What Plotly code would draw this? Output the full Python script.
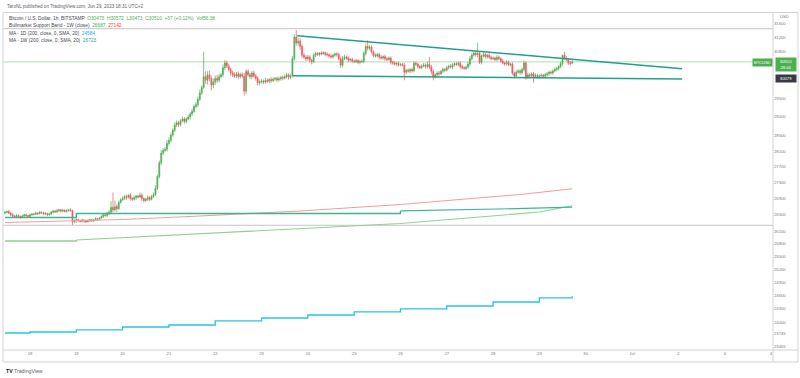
import math
import pandas as pd
import plotly.graph_objects as go

# ---------------- data ----------------
start_time = "2023-06-17 11:00"
open_first = 26540

close_jun17 = [26560, 26580, 26540, 26500, 26470, 26450, 26480, 26460, 26440, 26470, 26500, 26480, 26460]
close_jun18 = [26500, 26520, 26510, 26540, 26530, 26560, 26550, 26520, 26530, 26500, 26520, 26560,
               26590, 26570, 26600, 26620, 26590, 26610, 26580, 26600, 26620, 26600, 26330, 26360]
close_jun19 = [26380, 26360, 26340, 26370, 26350, 26330, 26360, 26380, 26350, 26370, 26400, 26390,
               26420, 26450, 26500, 26480, 26530, 26560, 26680, 26620, 26700, 26650, 26800, 26870]
close_jun20 = [26900, 26950, 26930, 26980, 26900, 26880, 26920, 26960, 26940, 26980, 26900, 26850,
               26880, 26920, 26880, 26950, 26990, 27150, 27450, 27800, 28050, 28120, 28150, 28300]
close_jun21 = [28380, 28520, 28650, 28790, 28850, 28800, 28900, 28950, 28880, 28950, 29000, 29080,
               29150, 29280, 29330, 29480, 29650, 29800, 30100, 30000, 30150, 30050, 29870, 29950]
close_jun22 = [30050, 30000, 30100, 30150, 30350, 30480, 30400, 30300, 30200, 30150, 30120, 30180,
               30100, 30160, 30120, 29700, 30240, 30150, 30100, 30200, 30120, 30050, 29930, 29950]
close_jun23 = [29980, 29950, 30000, 29970, 30020, 29990, 30030, 30050, 30010, 30040, 30080, 30060,
               30100, 30150, 30080, 30120, 30600, 31220, 31050, 31100, 30950, 30700, 30650, 30600]
close_jun24 = [30650, 30560, 30520, 30700, 30750, 30720, 30760, 30740, 30770, 30730, 30710, 30680,
               30650, 30700, 30740, 30720, 30600, 30420, 30600, 30650, 30620, 30560, 30580, 30540]
close_jun25 = [30520, 30550, 30500, 30530, 30520, 30750, 30950, 30900, 30930, 30800, 30700, 30680,
               30720, 30650, 30620, 30660, 30600, 30580, 30620, 30500, 30480, 30450, 30470, 30430]
close_jun26 = [30440, 30420, 30220, 30280, 30250, 30300, 30260, 30470, 30450, 30380, 30350, 30400,
               30420, 30380, 30440, 30370, 30250, 30090, 30150, 30200, 30180, 30250, 30300, 30280]
close_jun27 = [30350, 30390, 30370, 30430, 30460, 30440, 30470, 30380, 30350, 30330, 30360, 30450,
               30600, 30700, 30760, 30720, 30750, 30500, 30680, 30720, 30660, 30700, 30640, 30600]
close_jun28 = [30620, 30580, 30640, 30600, 30540, 30480, 30460, 30500, 30430, 30450, 30200, 30120,
               30220, 30260, 30210, 30300, 30480, 30090, 30150, 30120, 30180, 30100, 30130, 30100]
close_jun29 = [30120, 30140, 30110, 30150, 30180, 30220, 30200, 30260, 30300, 30330, 30380, 30470,
               30700, 30620, 30570, 30480, 30473, 30510]

wick_up_jun17 = [30, 20, 40, 25, 30, 20, 35, 25, 20, 30, 25, 30, 20]
wick_dn_jun17 = [25, 30, 20, 35, 30, 25, 20, 30, 35, 20, 25, 30, 25]
wick_up_jun18 = [30, 25, 20, 35, 25, 30, 20, 25, 40, 20, 30, 35, 25, 30, 40, 25, 20, 30, 25, 35, 30, 40, 20, 30]
wick_dn_jun18 = [20, 30, 25, 20, 35, 25, 30, 20, 25, 30, 20, 25, 30, 20, 25, 30, 35, 20, 25, 30, 20, 25, 80, 40]
wick_up_jun19 = [30, 20, 25, 40, 20, 30, 25, 20, 30, 25, 35, 20, 30, 40, 25, 30, 40, 60, 150, 370, 150, 60, 50, 40]
wick_dn_jun19 = [60, 40, 30, 25, 50, 30, 20, 35, 25, 30, 20, 40, 25, 20, 30, 25, 35, 40, 50, 60, 40, 80, 30, 25]
wick_up_jun20 = [60, 40, 50, 30, 60, 40, 50, 30, 40, 70, 50, 30, 40, 60, 50, 40, 60, 80, 50, 60, 80, 60, 50, 90]
wick_dn_jun20 = [30, 40, 60, 30, 50, 40, 30, 50, 40, 30, 60, 40, 30, 40, 50, 30, 40, 30, 40, 50, 60, 50, 40, 60]
wick_up_jun21 = [80, 60, 50, 70, 60, 50, 40, 60, 50, 40, 60, 50, 70, 60, 80, 70, 90, 60, 700, 150, 100, 120, 80, 100]
wick_dn_jun21 = [60, 50, 40, 50, 60, 70, 50, 40, 60, 50, 40, 60, 50, 40, 50, 60, 50, 60, 40, 100, 120, 80, 150, 90]
wick_up_jun22 = [80, 100, 70, 60, 90, 80, 70, 60, 50, 60, 70, 50, 60, 50, 60, 80, 60, 70, 50, 60, 70, 50, 60, 70]
wick_dn_jun22 = [80, 70, 60, 50, 60, 70, 60, 50, 70, 60, 50, 60, 70, 50, 60, 120, 80, 50, 60, 70, 50, 60, 80, 70]
wick_up_jun23 = [50, 40, 60, 50, 40, 60, 50, 40, 50, 60, 40, 50, 60, 50, 40, 60, 80, 80, 200, 100, 80, 60, 70, 50]
wick_dn_jun23 = [40, 60, 50, 40, 50, 60, 40, 50, 60, 40, 50, 60, 40, 50, 60, 50, 40, 60, 80, 70, 100, 80, 60, 70]
wick_up_jun24 = [60, 50, 40, 60, 50, 40, 30, 50, 40, 30, 50, 40, 50, 40, 30, 40, 50, 60, 80, 60, 40, 50, 40, 50]
wick_dn_jun24 = [50, 60, 80, 40, 50, 40, 50, 40, 30, 50, 40, 50, 40, 50, 40, 60, 50, 80, 60, 40, 50, 60, 40, 50]
wick_up_jun25 = [40, 50, 40, 30, 50, 60, 80, 180, 60, 50, 40, 60, 50, 40, 50, 40, 60, 50, 40, 50, 40, 50, 40, 50]
wick_dn_jun25 = [50, 40, 50, 60, 40, 50, 60, 70, 60, 50, 60, 40, 50, 60, 40, 50, 60, 50, 40, 60, 50, 40, 60, 50]
wick_up_jun26 = [40, 50, 60, 40, 50, 40, 50, 60, 50, 40, 50, 40, 60, 50, 80, 210, 60, 50, 40, 50, 60, 40, 50, 40]
wick_dn_jun26 = [50, 40, 220, 50, 40, 60, 50, 40, 50, 60, 40, 50, 40, 60, 50, 60, 90, 90, 40, 50, 60, 40, 50, 60]
wick_up_jun27 = [50, 40, 60, 50, 40, 50, 40, 60, 50, 40, 50, 60, 80, 60, 50, 60, 300, 50, 40, 60, 50, 40, 60, 50]
wick_dn_jun27 = [40, 50, 40, 60, 50, 40, 50, 60, 50, 40, 50, 40, 60, 50, 40, 60, 80, 50, 60, 40, 50, 60, 40, 50]
wick_up_jun28 = [50, 40, 60, 50, 40, 50, 40, 60, 50, 40, 50, 40, 60, 50, 40, 50, 70, 50, 60, 50, 40, 50, 60, 40]
wick_dn_jun28 = [40, 50, 60, 40, 50, 40, 60, 50, 40, 50, 60, 80, 50, 40, 60, 50, 60, 80, 50, 60, 50, 170, 40, 60]
wick_up_jun29 = [40, 50, 40, 60, 50, 40, 50, 40, 60, 50, 40, 50, 20, 100, 60, 50, 62, 62]
wick_dn_jun29 = [50, 40, 60, 40, 50, 60, 40, 50, 40, 50, 60, 40, 60, 50, 40, 60, 60, 0]

# Bull market support band (1W)
band_sma_t = ["2023-06-17 11:00", "2023-06-19 00:20", "2023-06-20 00:00", "2023-06-21 16:00",
              "2023-06-23 20:00", "2023-06-26 00:00", "2023-06-27 07:00", "2023-06-28 14:00", "2023-06-29 17:00"]
band_sma_v = [26312, 26348, 26385, 26470, 26593, 26752, 26877, 27001, 27142]
band_ema_step_t = ["2023-06-17 11:00", "2023-06-19 00:00", "2023-06-26 00:00"]
band_ema_step_v = [26434, 26531, 26593]
band_ema_rise_t = ["2023-06-26 00:00", "2023-06-27 12:00", "2023-06-28 12:00", "2023-06-29 17:00"]
band_ema_rise_v = [26593, 26620, 26650, 26687]

# MA 1W (200)
ma1w_step_t = ["2023-06-17 11:00", "2023-06-19 00:00"]
ma1w_step_v = [25867, 25891]
ma1w_rise_t = ["2023-06-19 00:00", "2023-06-21 16:00", "2023-06-23 20:00",
               "2023-06-26 00:00", "2023-06-27 17:00", "2023-06-29 00:00", "2023-06-29 17:00"]
ma1w_rise_v = [25891, 26042, 26155, 26288, 26446, 26568, 26723]

# MA 1D (200) - daily steps
ma1d_t = ["2023-06-17 11:00", "2023-06-18", "2023-06-19", "2023-06-20", "2023-06-21", "2023-06-22",
          "2023-06-23", "2023-06-24", "2023-06-25", "2023-06-26", "2023-06-27", "2023-06-28",
          "2023-06-29", "2023-06-29 17:00"]
ma1d_v = [23763, 23785, 23829, 23895, 23939, 24028, 24094, 24160, 24228, 24295, 24362, 24452, 24543, 24584]

# trend lines (drawings)
tl_upper_t = ["2023-06-23 18:30", "2023-07-02 02:00"]
tl_upper_v = [31258, 30318]
tl_lower_t = ["2023-06-23 16:15", "2023-07-02 02:00"]
tl_lower_v = [30126, 30034]
hline_levels = [31460, 26245]
last_price = 30510

y_tick_vals = [31600, 31200, 30800, 29500, 29000, 28500, 28100, 27700, 27300, 26900, 26500,
               26100, 25800, 25500, 25200, 24900, 24600, 24300, 24000, 23745, 23465]
x_tick_dates = ["2023-06-18", "2023-06-19", "2023-06-20", "2023-06-21", "2023-06-22", "2023-06-23",
                "2023-06-24", "2023-06-25", "2023-06-26", "2023-06-27", "2023-06-28", "2023-06-29",
                "2023-06-30", "2023-07-01", "2023-07-02", "2023-07-03", "2023-07-04"]
x_tick_text = ["18", "19", "20", "21", "22", "23", "24", "25", "26", "27", "28", "29", "30", "Jul", "2", "3", "4"]

# ---------------- build OHLC ----------------
closes = (close_jun17 + close_jun18 + close_jun19 + close_jun20 + close_jun21 + close_jun22 + close_jun23
          + close_jun24 + close_jun25 + close_jun26 + close_jun27 + close_jun28 + close_jun29)
wick_up = (wick_up_jun17 + wick_up_jun18 + wick_up_jun19 + wick_up_jun20 + wick_up_jun21 + wick_up_jun22
           + wick_up_jun23 + wick_up_jun24 + wick_up_jun25 + wick_up_jun26 + wick_up_jun27 + wick_up_jun28
           + wick_up_jun29)
wick_dn = (wick_dn_jun17 + wick_dn_jun18 + wick_dn_jun19 + wick_dn_jun20 + wick_dn_jun21 + wick_dn_jun22
           + wick_dn_jun23 + wick_dn_jun24 + wick_dn_jun25 + wick_dn_jun26 + wick_dn_jun27 + wick_dn_jun28
           + wick_dn_jun29)
opens = [open_first] + closes[:-1]
highs = [max(o, c) + w for o, c, w in zip(opens, closes, wick_up)]
lows = [min(o, c) - w for o, c, w in zip(opens, closes, wick_dn)]
times = pd.date_range(start_time, periods=len(closes), freq="h")

# ---------------- figure ----------------
W, H = 800, 378
ML, MR, MT, MB = 3, 27, 13, 28
PW, PH = W - ML - MR, H - MT - MB


def px(x):
    return (x - ML) / PW


def py(y):
    return (H - MB - y) / PH


UP, DN = "#4caf50", "#f7525f"
FONT = "Liberation Sans, Arial, sans-serif"
EMA_COL = "#3fb58f"
MA1W_COL = "#8fd094"

fig = go.Figure()

fig.add_trace(go.Scatter(x=ma1d_t, y=ma1d_v, mode="lines", line=dict(color="#26c6da", width=1.3, shape="hv")))
fig.add_trace(go.Scatter(x=ma1w_step_t, y=ma1w_step_v, mode="lines", line=dict(color=MA1W_COL, width=1.3, shape="hv")))
fig.add_trace(go.Scatter(x=ma1w_rise_t, y=ma1w_rise_v, mode="lines", line=dict(color=MA1W_COL, width=1.1)))
fig.add_trace(go.Scatter(x=band_sma_t, y=band_sma_v, mode="lines", line=dict(color="#f59a9f", width=1.1)))
fig.add_trace(go.Scatter(x=band_ema_step_t, y=band_ema_step_v, mode="lines",
                         line=dict(color=EMA_COL, width=1.4, shape="hv")))
fig.add_trace(go.Scatter(x=band_ema_rise_t, y=band_ema_rise_v, mode="lines", line=dict(color=EMA_COL, width=1.2)))

fig.add_trace(go.Candlestick(
    x=times, open=opens, high=highs, low=lows, close=closes,
    increasing=dict(line=dict(color=UP, width=0.7), fillcolor=UP),
    decreasing=dict(line=dict(color=DN, width=0.7), fillcolor=DN),
    whiskerwidth=0, hoverinfo="skip",
))

fig.add_trace(go.Scatter(x=tl_upper_t, y=tl_upper_v, mode="lines", line=dict(color="#22a08c", width=1.4)))
fig.add_trace(go.Scatter(x=tl_lower_t, y=tl_lower_v, mode="lines", line=dict(color="#22a08c", width=1.4)))

shapes = []
for lv in hline_levels:
    shapes.append(dict(type="line", xref="paper", x0=0, x1=1, yref="y", y0=lv, y1=lv,
                       line=dict(color="#c4c4c4", width=1), layer="below"))
shapes.append(dict(type="line", xref="paper", x0=0, x1=1, yref="y", y0=last_price, y1=last_price,
                   line=dict(color="rgba(76,175,80,0.35)", width=1.2), layer="below"))
# frame
frame_col = "#d0d3d8"
shapes.append(dict(type="rect", xref="paper", yref="paper", x0=px(3), x1=px(798), y0=py(362), y1=py(12.5),
                   line=dict(color=frame_col, width=1)))
shapes.append(dict(type="line", xref="paper", yref="paper", x0=px(773), x1=px(773), y0=py(362), y1=py(12.5),
                   line=dict(color=frame_col, width=1)))
shapes.append(dict(type="line", xref="paper", yref="paper", x0=px(3), x1=px(798), y0=py(350), y1=py(350),
                   line=dict(color=frame_col, width=1)))

G = "#4caf50"
ann = []


def add_text(x, y, text, size=4.8, color="#434651", xanchor="left", **kw):
    ann.append(dict(x=px(x), y=py(y), xref="paper", yref="paper", text=text, showarrow=False,
                    xanchor=xanchor, yanchor="middle", font=dict(size=size, color=color, family=FONT), **kw))


add_text(5, 6, "TaroNL published on TradingView.com, Jun 29, 2023 18:31 UTC+2", size=4.6, color="#5d606b")
add_text(7, 18.5, "Bitcoin / U.S. Dollar, 1h, BITSTAMP  "
         f"<span style='color:{G}'>O30473  H30572  L30473  C30510  +37 (+0.12%)  Vol56.38</span>")
add_text(7, 25.5, f"Bullmarket Support Band - 1W (close)  <span style='color:{G}'>26687</span>  "
         "<span style='color:#f23645'>27142</span>")
add_text(7, 33, "MA - 1D (200, close, 0, SMA, 20)  <span style='color:#00bcd4'>24584</span>")
add_text(7, 40.5, "MA - 1W (200, close, 0, SMA, 20)  <span style='color:#26a69a'>26723</span>")
add_text(778, 16.5, "USD", size=4.2, color="#787b86")
add_text(762.5, 62, "BTCUSD", size=4, color="white", xanchor="center", bgcolor=G, borderpad=1)
add_text(786, 64, "30510<br>28:44", size=4.2, color="white", xanchor="center", bgcolor=G,
         width=20, height=13, borderpad=0)
add_text(786, 78, "30079", size=4.2, color="white", xanchor="center", bgcolor="#363a45",
         width=20, height=7, borderpad=0)
add_text(4, 371, "<b>TV</b> <span style='color:#5d606b'>TradingView</span>", size=5.2, color="#131722")

fig.update_layout(
    width=W, height=H, margin=dict(l=ML, r=MR, t=MT, b=MB),
    paper_bgcolor="white", plot_bgcolor="white", showlegend=False, hovermode=False,
    shapes=shapes, annotations=ann, boxgap=0.3,
    xaxis=dict(type="date", range=["2023-06-17 10:00", "2023-07-04 01:05"], showgrid=False, zeroline=False,
               showline=False, ticks="", tickmode="array", tickvals=x_tick_dates, ticktext=x_tick_text,
               tickfont=dict(size=4.2, color="#787b86", family=FONT), rangeslider=dict(visible=False)),
    yaxis=dict(type="log", side="right", range=[math.log10(23393), math.log10(31919)], showgrid=False,
               zeroline=False, showline=False, ticks="", tickmode="array", tickvals=y_tick_vals,
               ticktext=[str(v) for v in y_tick_vals],
               tickfont=dict(size=4.2, color="#787b86", family=FONT)),
)

fig.write_html("out.html", config={"displayModeBar": False, "staticPlot": True},
               post_script="document.body.style.margin='0';document.body.style.overflow='hidden';")
